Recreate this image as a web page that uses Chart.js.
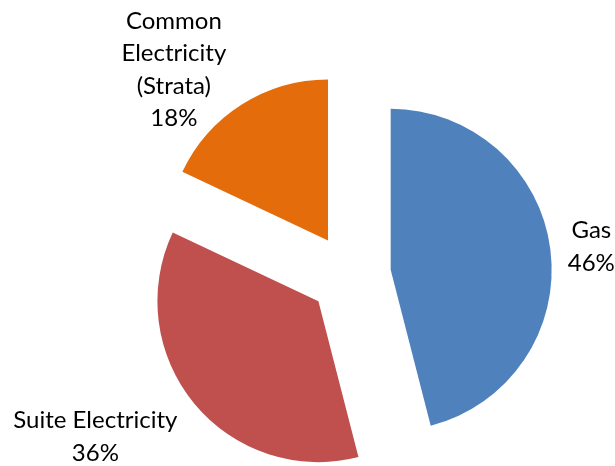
<!DOCTYPE html>
<html>
<head>
<meta charset="utf-8">
<title>Energy use by source</title>
<script src="https://cdn.jsdelivr.net/npm/chart.js@4"></script>
<style>
  html, body { margin: 0; padding: 0; background: #fff; }
  #wrap { width: 615px; height: 466px; position: relative; }
</style>
</head>
<body>
<div id="wrap"><canvas id="energyChart"></canvas></div>
<script>
// Share of energy by source (%)
const categories = [["Gas"], ["Suite Electricity"], ["Common", "Electricity", "(Strata)"]];
const shares = [46, 36, 18];
const sliceColors = ["#4F81BD", "#C0504D", "#E46C0A"];

const EXPLODE = 41;    // px each slice is pushed out from the centre
const PIE_RADIUS = 161;

// Explode the pie by moving each arc's centre along its mid-angle.
// (The built-in offset option also trims angles and grows narrow slices.)
const explode = {
  id: "explode",
  beforeDatasetsDraw(chart) {
    const area = chart.chartArea;
    const cx = (area.left + area.right) / 2;
    const cy = (area.top + area.bottom) / 2;
    chart.getDatasetMeta(0).data.forEach((arc) => {
      const half = (arc.startAngle + arc.endAngle) / 2;
      arc.x = cx + Math.cos(half) * EXPLODE;
      arc.y = cy + Math.sin(half) * EXPLODE;
    });
  },
};

// Outside labels: category name plus percentage, centred as a block
const sliceLabels = {
  id: "sliceLabels",
  afterDatasetsDraw(chart, args, opts) {
    const ctx = chart.ctx;
    const meta = chart.getDatasetMeta(0);
    ctx.save();
    ctx.font = opts.font;
    ctx.fillStyle = opts.color;
    ctx.textAlign = "center";
    ctx.textBaseline = "alphabetic";
    meta.data.forEach((arc, i) => {
      const half = (arc.startAngle + arc.endAngle) / 2;
      const place = opts.placement[i];
      const a = half + (place.turn * Math.PI) / 180;
      const px = arc.x + Math.cos(a) * place.dist;
      const py = arc.y + Math.sin(a) * place.dist;
      const lines = categories[i].concat([shares[i] + "%"]);
      const n = lines.length;
      lines.forEach((line, k) => {
        const y = py + (k - (n - 1) / 2) * opts.lineHeight + opts.capHeight / 2;
        ctx.fillText(line, px, y);
      });
    });
    ctx.restore();
  },
};

const ctx = document.getElementById("energyChart").getContext("2d");
new Chart(ctx, {
  type: "pie",
  data: {
    labels: categories,
    datasets: [
      {
        data: shares,
        backgroundColor: sliceColors,
        borderWidth: 0,
      },
    ],
  },
  options: {
    responsive: true,
    maintainAspectRatio: false,
    animation: false,
    radius: PIE_RADIUS,
    layout: { padding: { left: 85, right: 0, top: 84, bottom: 0 } },
    plugins: {
      legend: { display: false },
      tooltip: { enabled: false },
      sliceLabels: {
        font: "24px Lato",
        color: "#000",
        lineHeight: 32.5,
        capHeight: 16,
        placement: [
          { turn: 0.55, dist: 202 },
          { turn: 8.3, dist: 261 },
          { turn: -9.7, dist: 230 },
        ],
      },
    },
  },
  plugins: [explode, sliceLabels],
});
</script>
</body>
</html>
